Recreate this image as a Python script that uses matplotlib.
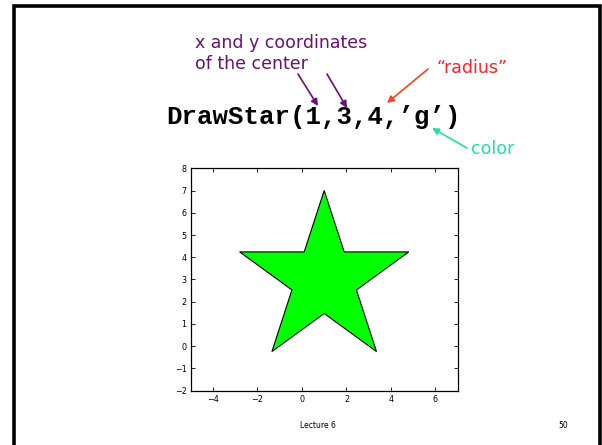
import matplotlib.pyplot as plt

# star vertices (DrawStar(1,3,4,'g'))
star_x = [1.0, 0.10, -2.80, -0.45, -1.35, 1.0, 3.35, 2.45, 4.80, 1.90]
star_y = [7.0, 4.24, 4.24, 2.53, -0.24, 1.47, -0.24, 2.53, 4.24, 4.24]
x_ticks = [-4, -2, 0, 2, 4, 6]
y_ticks = [-2, -1, 0, 1, 2, 3, 4, 5, 6, 7, 8]

fig = plt.figure(figsize=(6.02, 4.45), dpi=100)

ax = fig.add_axes([190.7/602, 1-390.7/445, 267/602, 222.4/445])
ax.fill(star_x, star_y, facecolor='#00ff00', edgecolor='k', lw=0.8)
ax.set_xlim(-5, 7)
ax.set_ylim(-2, 8)
ax.set_xticks(x_ticks)
ax.set_yticks(y_ticks)
ax.tick_params(direction='in', length=3, width=0.6, labelsize=5.8, pad=3,
               top=True, right=True)
for s in ax.spines.values():
    s.set_linewidth(0.9)

# overlay in pixel coords for the slide text
ov = fig.add_axes([0, 0, 1, 1], facecolor='none')
ov.set_xlim(0, 602)
ov.set_ylim(445, 0)
ov.axis('off')

ov.plot([14, 14, 600, 600], [445, 6, 6, 445], color='k', lw=2.6,
        solid_joinstyle='miter')

purple = '#6a1070'
ov.text(195, 43, 'x and y coordinates', color=purple, fontsize=12.5,
        ha='left', va='center')
ov.text(195, 64, 'of the center', color=purple, fontsize=12.5,
        ha='left', va='center')
ov.text(437, 68, '\u201cradius\u201d', color='#ff2020', fontsize=12.5,
        ha='left', va='center')
ov.text(471, 149, 'color', color='#22e0a8', fontsize=12.5,
        ha='left', va='center')
ov.text(313, 117, 'DrawStar(1,3,4,\u2019g\u2019)', family='Liberation Mono',
        weight='bold', fontsize=18.5, ha='center', va='center')

arr = [((298, 74), (318, 106), purple),
       ((327, 74), (347, 108), purple),
       ((428, 69), (387, 103), '#ff4020'),
       ((467, 148), (432, 128), '#22e0a8')]
for (x0, y0), (x1, y1), c in arr:
    ov.annotate('', xy=(x1, y1), xytext=(x0, y0),
                arrowprops=dict(arrowstyle='-|>', color=c, lw=1.2,
                                mutation_scale=10, shrinkA=0, shrinkB=0))

ov.text(318, 425, 'Lecture 6', fontsize=5.5, ha='center', va='center')
ov.text(563, 425, '50', fontsize=5.5, ha='center', va='center')

plt.savefig('out.png', dpi=100)
